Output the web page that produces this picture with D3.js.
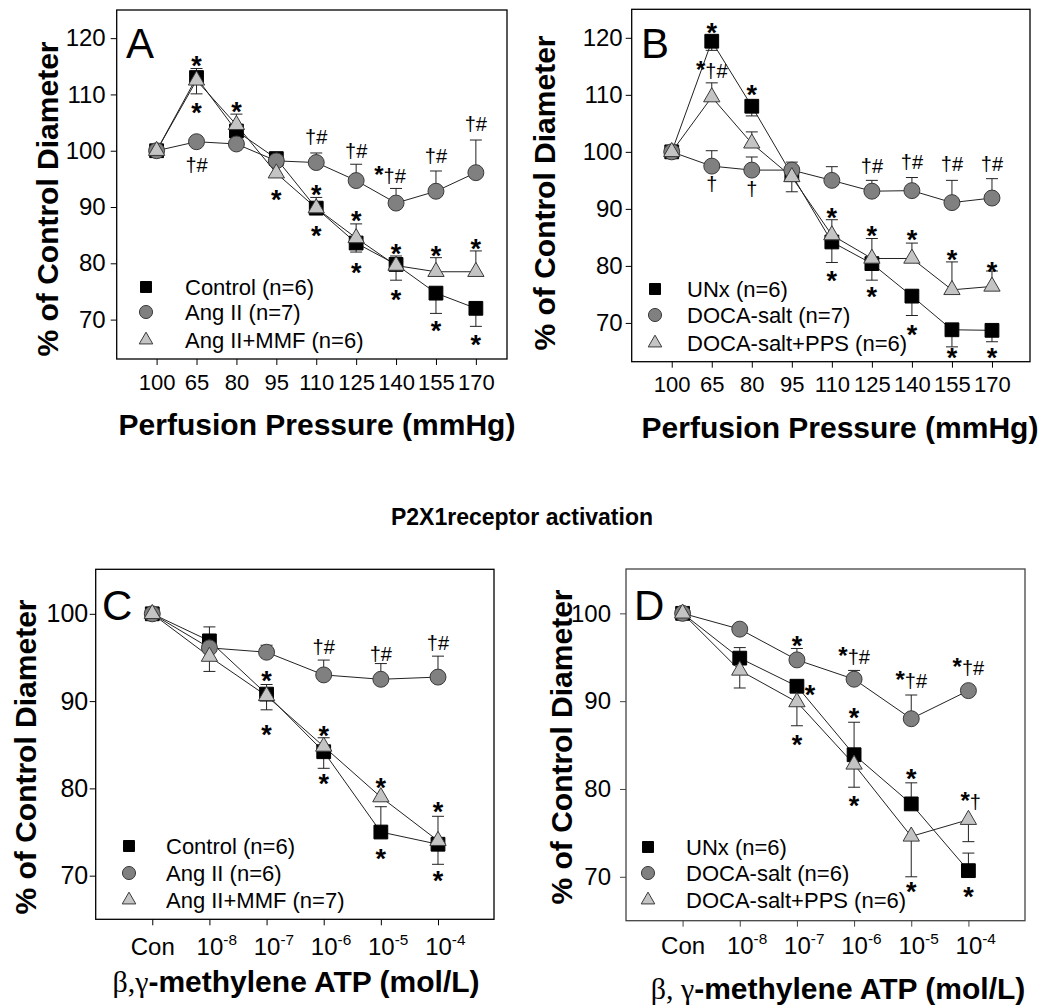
<!DOCTYPE html>
<html><head><meta charset="utf-8">
<script src="https://cdn.jsdelivr.net/npm/d3@7"></script>
<style>
body{margin:0;background:#fff}
svg{display:block}
text{font-family:"Liberation Sans",Arial,sans-serif;fill:#000}
</style>
</head><body>
<svg id="chart" width="1046" height="1005"></svg>
<script>
// ---------------- DATA ----------------
const pressureCats = ["100","65","80","95","110","125","140","155","170"];
const atpCats = ["Con","10","10","10","10","10"];
const atpExponents = ["","-8","-7","-6","-5","-4"];
const yTicksTop = [70,80,90,100,110,120];
const yTicksBottom = [70,80,90,100];

// Panel A
const aNames = ["Control (n=6)","Ang II (n=7)","Ang II+MMF (n=6)"];
const aControl    = [100,113.0,103.5,98.6,89.8,83.6,79.8,74.7,72.0];
const aControlErr = [0,1.6,0,0,1.9,-1.6,1.5,-3.6,-3.2];
const aAngII      = [100,101.6,101.2,98.2,97.9,94.7,90.7,92.8,96.1];
const aAngIIErr   = [0,0,0,0,1.7,2.9,2.6,3.6,5.8];
const aMMF        = [100,112.5,104.6,96.0,89.8,84.5,79.6,78.5,78.5];
const aMMFErr     = [0,-2.4,1.9,0,0,2.5,-2.6,2.5,3.7];
const aAnnot = [
 [1,116.1,"*"],[1,107.8,"*"],[1,97.2,"†#"],
 [2,108.1,"*"],
 [3,92.4,"*"],
 [4,102.2,"†#"],[4,93.3,"*"],[4,85.9,"*"],
 [5,99.8,"†#"],[5,88.6,"*"],[5,79.4,"*"],
 [5.85,95.4,"*†#"],[6,82.7,"*"],[6,74.7,"*"],
 [7,98.9,"†#"],[7,82.4,"*"],[7,69.1,"*"],
 [8,104.6,"†#"],[8,83.6,"*"],[8,66.7,"*"]
];

// Panel B
const bNames = ["UNx (n=6)","DOCA-salt (n=7)","DOCA-salt+PPS (n=6)"];
const bUNx      = [100,119.4,108.0,96.0,84.2,80.4,74.7,68.8,68.7];
const bUNxErr   = [0,-1.6,-1.7,0,-3.6,-2.9,-3.4,-3.0,-2.0];
const bDOCA     = [100,97.5,96.8,96.8,95.0,93.1,93.2,91.1,91.9];
const bDOCAErr  = [0,2.7,2.3,1.4,2.4,1.9,2.3,3.9,3.4];
const bPPS      = [100,109.6,101.5,95.6,85.4,81.3,81.3,75.8,76.4];
const bPPSErr   = [0,2.5,2.0,-2.6,2.7,3.5,2.7,4.9,2.7];
const bAnnot = [
 [1,121.9,"*"],[1,114.0,"*†#"],[1,94.2,"†"],
 [2,111.1,"*"],[2,93.3,"†"],
 [4,89.5,"*"],[4,78.4,"*"],
 [5,97.4,"†#"],[5,86.3,"*"],[5,75.7,"*"],
 [6,98.0,"†#"],[6,85.7,"*"],[6,69.0,"*"],
 [7,97.7,"†#"],[7,82.2,"*"],[7,64.9,"*"],
 [8,97.7,"†#"],[8,80.1,"*"],[8,64.9,"*"]
];

// Panel C
const cNames = ["Control (n=6)","Ang II (n=6)","Ang II+MMF (n=7)"];
const cControl    = [100,96.9,90.8,84.2,75.0,73.6];
const cControlErr = [0,1.6,1.1,-1.9,2.9,-2.3];
const cAngII      = [100,96.1,95.6,93.0,92.5,92.75];
const cAngIIErr   = [0,0,0.8,1.7,1.8,2.4];
const cMMF        = [100,95.1,90.6,84.8,79.0,74.0];
const cMMFErr     = [0,-1.7,-1.6,1.0,0,2.8];
const cAnnot = [
 [2,93.0,"*"],[2,86.9,"*"],
 [3,96.1,"†#"],[3,86.7,"*"],[3,81.2,"*"],
 [4,95.3,"†#"],[4,80.8,"*"],[4,72.6,"*"],
 [5,96.5,"†#"],[5,78.0,"*"],[5,70.1,"*"]
];

// Panel D
const dNames = ["UNx (n=6)","DOCA-salt (n=6)","DOCA-salt+PPS (n=6)"];
const dUNx      = [100,94.9,91.7,83.9,78.3,70.7];
const dUNxErr   = [0,1.2,0,3.7,2.4,2.0];
const dDOCA     = [100,98.2,94.7,92.5,88.0,91.2];
const dDOCAErr  = [0,0,1.3,1.0,2.7,0];
const dPPS      = [100,93.5,89.9,82.8,74.6,76.5];
const dPPSErr   = [0,-2.0,-2.7,-2.6,-4.6,-2.5];
const dAnnot = [
 [2,97.0,"*"],[2.23,91.4,"*"],[2,85.7,"*"],
 [3,94.9,"*†#"],[3,88.8,"*"],[3,78.8,"*"],
 [4,92.2,"*†#"],[4,81.9,"*"],[4,69.0,"*"],
 [5,93.7,"*†#"],[5.04,78.4,"*†"],[5,68.4,"*"]
];

const mainTitle = "P2X1receptor activation";

// ---------------- DRAWING ----------------
const svg = d3.select("#chart");
const styles = [
  {sym:d3.symbolSquare,   size:190, lsize:120, fill:"#000",    stroke:"#000"},
  {sym:d3.symbolCircle,   size:200, lsize:135, fill:"#808080", stroke:"#3a3a3a"},
  {sym:d3.symbolTriangle, size:115, lsize:80,  fill:"#c4c4c4", stroke:"#3a3a3a"}
];

function drawPanel(cfg){
  const g = svg.append("g");
  const x = d3.scaleLinear().domain(cfg.xDomain).range([cfg.left,cfg.right]);
  const y = d3.scaleLinear().domain(cfg.yDomain).range([cfg.bottom,cfg.top]);

  // y axis
  const ya = g.append("g").attr("transform",`translate(${cfg.left},0)`)
    .call(d3.axisLeft(y).tickValues(cfg.yTicks).tickSize(6).tickPadding(cfg.yPad).tickFormat(d3.format("d")));
  ya.select(".domain").remove();
  ya.selectAll("line").attr("stroke",cfg.frame);
  ya.selectAll("text").attr("font-size",cfg.yFont).attr("font-family","Liberation Sans, Arial, sans-serif");

  // x axis
  const xa = g.append("g").attr("transform",`translate(0,${cfg.bottom})`)
    .call(d3.axisBottom(x).tickValues(d3.range(cfg.cats.length)).tickSize(6).tickFormat(i=>cfg.cats[i]));
  xa.select(".domain").remove();
  xa.selectAll("line").attr("stroke",cfg.frame);
  xa.selectAll("text").attr("font-size",cfg.xFont).attr("font-family","Liberation Sans, Arial, sans-serif")
    .attr("y",cfg.xLabY).attr("dy",0);
  if(cfg.exps){
    xa.selectAll("text").each(function(i){
      const t = d3.select(this);
      if(!cfg.exps[i]) return;
      t.text(null).attr("text-anchor","start").attr("x",-cfg.xFont*0.556);
      t.append("tspan").text(cfg.cats[i]);
      t.append("tspan").attr("dy",-cfg.xFont*0.42).attr("font-size",cfg.xFont*0.64).text(cfg.exps[i]);
    });
  }

  // frame
  g.append("rect").attr("x",cfg.left).attr("y",cfg.top)
    .attr("width",cfg.right-cfg.left).attr("height",cfg.bottom-cfg.top)
    .attr("fill","none").attr("stroke",cfg.frame).attr("stroke-width",1.3);

  // lines
  const line = d3.line().x((d,i)=>x(i)).y(d=>y(d));
  cfg.series.forEach(s=>{
    g.append("path").datum(s.values).attr("d",line)
      .attr("fill","none").attr("stroke","#222").attr("stroke-width",1);
  });
  // error bars
  cfg.series.forEach(s=>{
    s.err.forEach((e,i)=>{
      if(!e) return;
      const y0 = y(s.values[i]), y1 = y(s.values[i]+e);
      g.append("line").attr("x1",x(i)).attr("x2",x(i)).attr("y1",y0).attr("y2",y1)
        .attr("stroke","#222").attr("stroke-width",1);
      g.append("line").attr("x1",x(i)-6).attr("x2",x(i)+6).attr("y1",y1).attr("y2",y1)
        .attr("stroke","#222").attr("stroke-width",1);
    });
  });
  // markers
  cfg.series.forEach((s,k)=>{
    const st = styles[k];
    g.selectAll(null).data(s.values).join("path")
      .attr("transform",(d,i)=>`translate(${x(i)},${y(d)})`)
      .attr("d",d3.symbol().type(st.sym).size(st.size))
      .attr("fill",st.fill).attr("stroke",st.stroke).attr("stroke-width",1);
  });

  // annotations
  cfg.annot.forEach(([xi,v,txt])=>{
    const onlyStar = /^\*+$/.test(txt);
    const fs = onlyStar ? 27 : 20;
    const t = g.append("text").attr("x",x(xi)).attr("y",y(v)+(onlyStar?0.57*fs:0.3*fs))
      .attr("text-anchor","middle").attr("font-size",fs);
    [...txt].forEach(ch=>{
      t.append("tspan").text(ch).attr("font-weight",ch==="*"?"bold":"normal")
        .attr("font-size",ch==="*"?(onlyStar?27:24):20);
    });
  });

  // legend
  cfg.names.forEach((n,k)=>{
    const st = styles[k];
    const ly = cfg.legY[k];
    g.append("path").attr("transform",`translate(${cfg.legX},${ly})`)
      .attr("d",d3.symbol().type(st.sym).size(st.lsize))
      .attr("fill",st.fill).attr("stroke",st.stroke).attr("stroke-width",1);
    g.append("text").attr("x",cfg.legTextX).attr("y",ly+8).attr("font-size",22).text(n);
  });

  // panel letter
  g.append("text").attr("x",cfg.letterX).attr("y",cfg.letterY).attr("font-size",42).text(cfg.letter);

  // y title
  g.append("text").attr("transform",`translate(${cfg.yTitleX},${cfg.yTitleY}) rotate(-90)`)
    .attr("text-anchor","middle").attr("font-size",30).attr("font-weight","bold")
    .text("% of Control Diameter");

  // x title
  const xt = g.append("text").attr("x",cfg.xTitleX).attr("y",cfg.xTitleY)
    .attr("text-anchor","middle").attr("font-size",30).attr("font-weight","bold");
  if(cfg.xTitleSerif){
    xt.append("tspan").attr("font-family","Liberation Serif, Times New Roman, serif").attr("font-weight","normal").text(cfg.xTitleSerif);
  }
  xt.append("tspan").text(cfg.xTitle);
}

drawPanel({
  letter:"A", letterX:126, letterY:58,
  left:116.7,right:507,top:10,bottom:359, frame:"#000",
  xDomain:[-1,8.78], yDomain:[63,125], yTicks:yTicksTop, yPad:5, yFont:24,
  cats:pressureCats, xFont:22, xLabY:31,
  series:[{values:aControl,err:aControlErr},{values:aAngII,err:aAngIIErr},{values:aMMF,err:aMMFErr}],
  annot:aAnnot, names:aNames, legX:146, legY:[287,312,340], legTextX:185,
  yTitleX:58, yTitleY:199, xTitleX:317, xTitleY:435, xTitle:"Perfusion Pressure (mmHg)"
});
drawPanel({
  letter:"B", letterX:641, letterY:58,
  left:631.7,right:1030,top:9.3,bottom:361.7, frame:"#000",
  xDomain:[-1,8.95], yDomain:[63.2,125], yTicks:yTicksTop, yPad:3, yFont:24,
  cats:pressureCats, xFont:22, xLabY:30,
  series:[{values:bUNx,err:bUNxErr},{values:bDOCA,err:bDOCAErr},{values:bPPS,err:bPPSErr}],
  annot:bAnnot, names:bNames, legX:655, legY:[289,315,343], legTextX:687,
  yTitleX:555, yTitleY:193, xTitleX:840, xTitleY:438, xTitle:"Perfusion Pressure (mmHg)"
});
drawPanel({
  letter:"C", letterX:102, letterY:620,
  left:95.7,right:494,top:569.3,bottom:919.3, frame:"#000",
  xDomain:[-0.99,5.98], yDomain:[65,105.1], yTicks:yTicksBottom, yPad:1.5, yFont:25,
  cats:atpCats, exps:atpExponents, xFont:24, xLabY:36,
  series:[{values:cControl,err:cControlErr},{values:cAngII,err:cAngIIErr},{values:cMMF,err:cMMFErr}],
  annot:cAnnot, names:cNames, legX:129, legY:[846,873,900], legTextX:166,
  yTitleX:36, yTitleY:757, xTitleX:296, xTitleY:992, xTitleSerif:"β,γ", xTitle:"-methylene ATP (mol/L)"
});
drawPanel({
  letter:"D", letterX:634, letterY:620,
  left:626,right:1025,top:569,bottom:920.7, frame:"#444",
  xDomain:[-0.99,5.99], yDomain:[65,105.05], yTicks:yTicksBottom, yPad:9, yFont:24,
  cats:atpCats, exps:atpExponents, xFont:24, xLabY:33,
  series:[{values:dUNx,err:dUNxErr},{values:dDOCA,err:dDOCAErr},{values:dPPS,err:dPPSErr}],
  annot:dAnnot, names:dNames, legX:648, legY:[847,873,900], legTextX:686,
  yTitleX:572, yTitleY:747, xTitleX:838, xTitleY:999, xTitleSerif:"β, γ", xTitle:"-methylene ATP (mol/L)"
});

svg.append("text").attr("x",522).attr("y",525).attr("text-anchor","middle")
  .attr("font-size",23).attr("font-weight","bold").text(mainTitle);
</script>
</body></html>
